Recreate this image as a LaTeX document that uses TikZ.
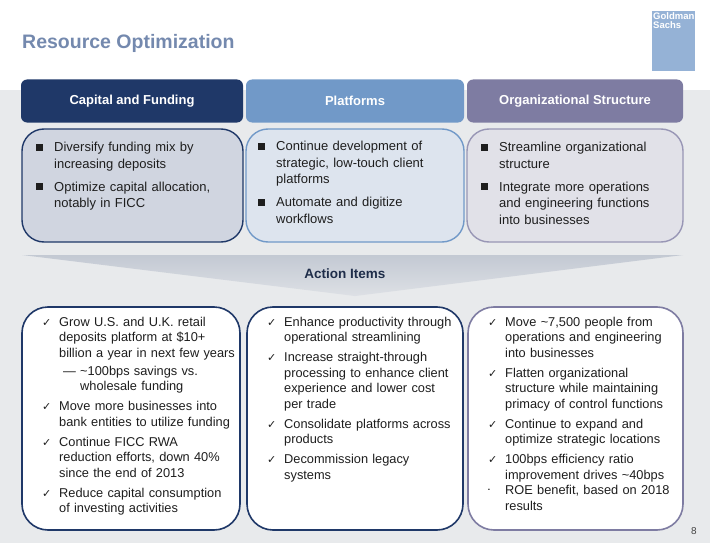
\documentclass[tikz,border=0pt]{standalone}
\usepackage{fontspec}
\setmainfont{Liberation Sans}
\newfontfamily\djv{DejaVu Sans}
\definecolor{navy}{HTML}{1F3868}
\definecolor{lblue}{HTML}{7199C8}
\definecolor{purp}{HTML}{7E7CA2}
\definecolor{bg}{HTML}{E8EAEC}
\definecolor{txt}{HTML}{1E1E1E}
\definecolor{ttl}{HTML}{7489AE}
\definecolor{f1}{HTML}{D0D5E0}
\definecolor{f2}{HTML}{DDE4EE}
\definecolor{f3}{HTML}{E1E1E8}
\definecolor{chA}{HTML}{C3C9D3}
\definecolor{chB}{HTML}{DDE0E5}
\definecolor{acttxt}{HTML}{1F2D4A}
\definecolor{pgc}{HTML}{444444}
\newcommand{\sqitem}[1]{\noindent\makebox[18pt][l]{\raisebox{1pt}{\rule{7pt}{7pt}}}\parbox[t]{200pt}{#1\strut}\par\vspace{8pt}}
\newcommand{\ckitem}[1]{\noindent\makebox[17pt][l]{\djv\fontsize{11}{11}\selectfont ✓}\parbox[t]{200pt}{#1\strut}\par\vspace{5pt}}
\newcommand{\subitm}[1]{\noindent\hspace*{21pt}\makebox[17pt][l]{—}\parbox[t]{180pt}{#1\strut}\par\vspace{5pt}}
\begin{document}
\begin{tikzpicture}[x=1pt,y=-1pt,
  hdr/.style={rounded corners=6pt,minimum height=43pt,text=white,font=\bfseries\fontsize{13}{15}\selectfont},
  top/.style={rounded corners=22pt,line width=1.4pt},
  bot/.style={rounded corners=26pt,line width=1.6pt,fill=white},
  ttext/.style={anchor=north west,inner sep=0pt,text width=225pt,text=txt,font=\fontsize{13}{16.5}\selectfont},
  btext/.style={anchor=north west,inner sep=0pt,text width=225pt,text=txt,font=\fontsize{12.8}{15.5}\selectfont}]
\useasboundingbox (0,0) rectangle (710,543);
\fill[bg] (0,90) rectangle (710,543);
\node[anchor=west,text=ttl,font=\bfseries\fontsize{19.5}{21}\selectfont,inner sep=0pt] (title) at (22,43) {Resource Optimization};
\node[fill=lblue!75,minimum width=43pt,minimum height=60pt,inner sep=0pt] (logo) at (673.5,41) {};
\node[anchor=north west,text=white,font=\rmfamily\bfseries\fontsize{9.5}{9}\selectfont,align=left,inner sep=0pt] (logot) at (653,12) {Goldman\\Sachs};
% headers
\node[hdr,fill=navy,minimum width=222pt] (h1) at (132,101) {Capital and Funding};
\node[hdr,fill=lblue,minimum width=218pt] (h2) at (355,101) {Platforms};
\node[hdr,fill=purp,minimum width=216pt] (h3) at (575,101) {Organizational Structure};
% top boxes
\draw[top,draw=navy,fill=f1] (22,129) rectangle (243,242);
\draw[top,draw=lblue,fill=f2] (246,129) rectangle (464,242);
\draw[top,draw=purp!80,fill=f3] (467,129) rectangle (683,242);
\node[ttext] (t1) at (36,142) {\sqitem{Diversify funding mix by\\increasing deposits}\sqitem{Optimize capital allocation,\\notably in FICC}};
\node[ttext] (t2) at (258,141) {\sqitem{Continue development of\\strategic, low-touch client\\platforms}\sqitem{Automate and digitize\\workflows}};
\node[ttext] (t3) at (481,142) {\sqitem{Streamline organizational\\structure}\sqitem{Integrate more operations\\and engineering functions\\into businesses}};
% chevron
\shade[top color=chA,bottom color=chB] (22,255) -- (683,255) -- (355,296) -- cycle;
\node[font=\bfseries\fontsize{13.5}{15}\selectfont,text=acttxt] (act) at (345,274) {Action Items};
% bottom boxes
\draw[bot,draw=navy] (22,307) rectangle (240,530);
\draw[bot,draw=navy] (247,307) rectangle (463,530);
\draw[bot,draw=purp] (468,307) rectangle (683,530);
\node[btext] (b1) at (42,317) {\ckitem{Grow U.S. and U.K. retail\\deposits platform at \$10+\\billion a year in next few years}\vspace{-2pt}\subitm{\textasciitilde100bps savings vs.\\wholesale funding}\ckitem{Move more businesses into\\bank entities to utilize funding}\ckitem{Continue FICC RWA\\reduction efforts, down 40\%\\since the end of 2013}\ckitem{Reduce capital consumption\\of investing activities}};
\node[btext] (b2) at (267,317) {\ckitem{Enhance productivity through\\operational streamlining}\ckitem{Increase straight-through\\processing to enhance client\\experience and lower cost\\per trade}\ckitem{Consolidate platforms across\\products}\ckitem{Decommission legacy\\systems}};
\node[btext] (b3) at (488,317) {\ckitem{Move \textasciitilde7,500 people from\\operations and engineering\\into businesses}\ckitem{Flatten organizational\\structure while maintaining\\primacy of control functions}\ckitem{Continue to expand and\\optimize strategic locations}\ckitem{100bps efficiency ratio\\improvement drives \textasciitilde40bps\\ROE benefit, based on 2018\\results}};
\node[font=\fontsize{12}{12}\selectfont,inner sep=0pt] (dot) at (489,490) {.};
\node[font=\fontsize{10}{10}\selectfont,text=pgc,inner sep=0pt] (pg) at (694,531) {8};
\end{tikzpicture}
\end{document}
